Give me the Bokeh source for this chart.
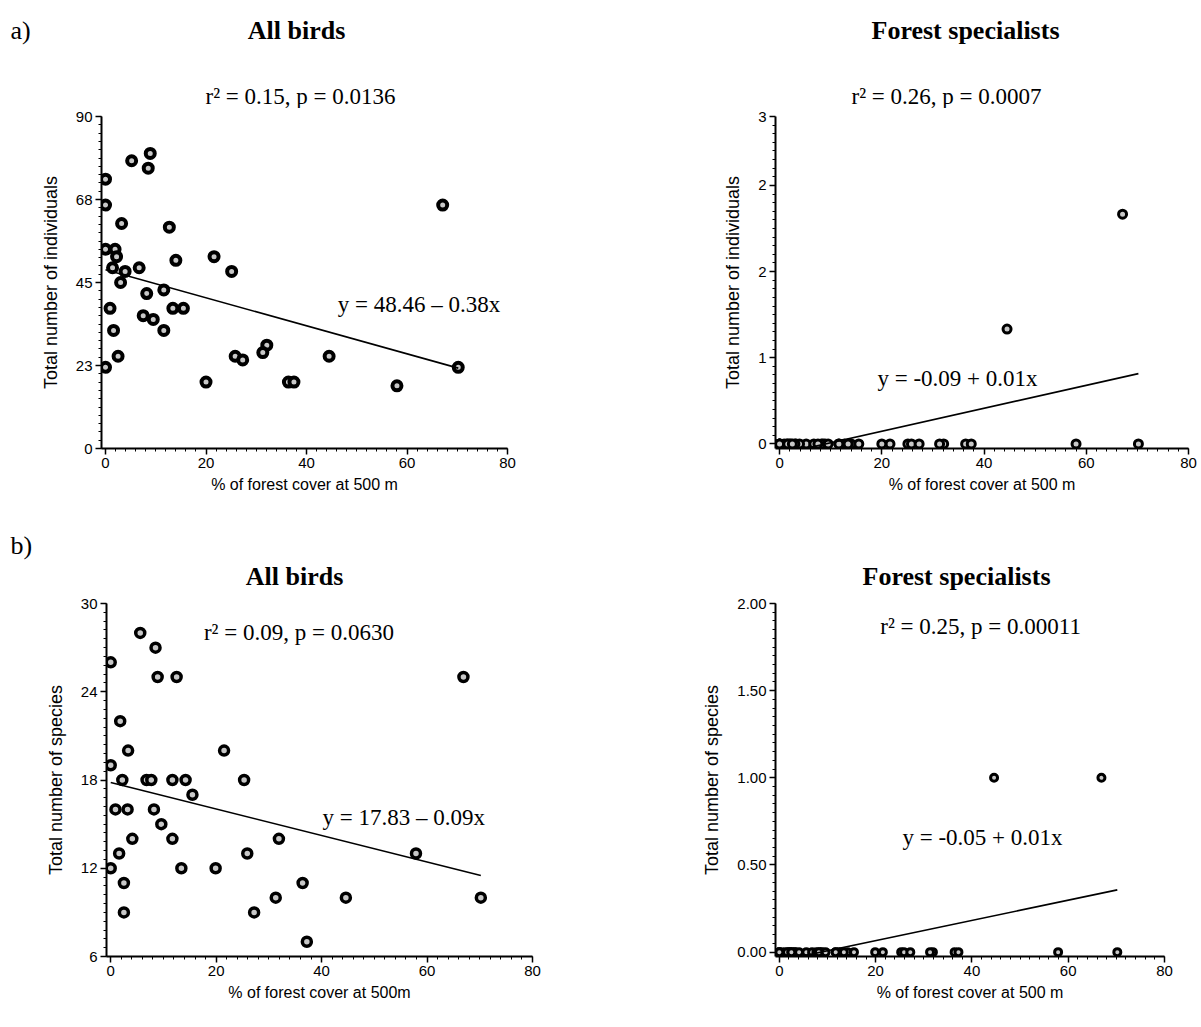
import numpy as np
from bokeh.plotting import figure
from bokeh.models import Label, FixedTicker, NumeralTickFormatter
from bokeh.layouts import column, row
from bokeh.embed import file_html
from bokeh.resources import INLINE

# ---- a) total number of individuals per site ----
cover_a = [0, 0, 5.2, 8.9, 8.5, 3.2, 12.7, 0, 1.9, 2.2, 1.4, 6.7, 3.9, 3.0,
           14.0, 21.6, 25.1, 8.2, 11.6, 0.9, 13.4, 15.5, 7.5, 9.5, 11.6, 1.6,
           2.5, 0, 20.0, 25.8, 27.3, 32.1, 31.3, 36.4, 37.5, 67.1, 44.5, 58.0, 70.2]
indiv_all = [73, 66, 78, 80, 76, 61, 60, 54, 54, 52, 49, 49, 48, 45,
             51, 52, 48, 42, 43, 38, 38, 38, 36, 35, 32, 32,
             25, 22, 18, 25, 24, 28, 26, 18, 18, 66, 25, 17, 22]
indiv_forest = [0, 0, 0, 0, 0, 0, 0, 0, 0, 0, 0, 0, 0, 0,
                0, 0, 0, 0, 0, 0, 0, 0, 0, 0, 0, 0,
                0, 0, 0, 0, 0, 0, 0, 0, 0, 2, 1, 0, 0]

# ---- b) total number of species per site ----
cover_b = [5.6, 8.5, 0, 8.9, 12.5, 1.8, 3.3, 21.5, 0, 2.2, 6.8, 7.7, 11.7,
           14.2, 25.3, 15.5, 0.9, 3.2, 8.2, 9.6, 4.1, 11.7, 31.9, 1.6, 25.9,
           0, 13.4, 19.9, 2.5, 36.4, 31.3, 2.5, 27.2, 37.2, 57.9, 44.6, 70.2, 66.9]
species_all = [28, 27, 26, 25, 25, 22, 20, 20, 19, 18, 18, 18, 18,
               18, 18, 17, 16, 16, 16, 15, 14, 14, 14, 13, 13,
               12, 12, 12, 11, 11, 10, 9, 9, 7, 13, 10, 10, 25]
species_forest = [0, 0, 0, 0, 0, 0, 0, 0, 0, 0, 0, 0, 0,
                  0, 0, 0, 0, 0, 0, 0, 0, 0, 0, 0, 0,
                  0, 0, 0, 0, 0, 0, 0, 0, 0, 0, 1, 0, 1]

# linear fits: (intercept, slope)
fit_a_all = (48.46, -0.38)
fit_a_forest = (-0.09, 0.01)
fit_b_all = (17.83, -0.09)
fit_b_forest = (-0.05, 0.0058)

x_ticks = [0, 20, 40, 60, 80]

SERIF = "Liberation Serif"
SANS = "Liberation Sans"


def make_panel(width, height, borders, y_range, y_ticks, y_labels,
               y_minor, x_title, y_title):
    left, right, top, bottom = borders
    p = figure(width=width, height=height, x_range=(-0.8, 80), y_range=y_range,
               output_backend="svg", toolbar_location=None,
               min_border_left=left, min_border_right=right,
               min_border_top=top, min_border_bottom=bottom)
    p.xgrid.visible = False
    p.ygrid.visible = False
    p.outline_line_color = None
    p.background_fill_color = "white"
    p.border_fill_color = "white"
    p.xaxis.ticker = FixedTicker(ticks=x_ticks, minor_ticks=list(np.arange(0, 80.1, 2)))
    p.yaxis.ticker = FixedTicker(ticks=y_ticks, minor_ticks=y_minor)
    if y_labels is not None:
        p.yaxis.major_label_overrides = {t: l for t, l in zip(y_ticks, y_labels)}
    p.xaxis.axis_label = x_title
    p.yaxis.axis_label = y_title
    for ax in p.axis:
        ax.axis_line_width = 2
        ax.axis_line_color = "black"
        ax.major_tick_line_width = 1.5
        ax.major_tick_line_color = "black"
        ax.major_tick_out = 6
        ax.major_tick_in = 0
        ax.minor_tick_out = 3
        ax.minor_tick_in = 0
        ax.minor_tick_line_color = "black"
        ax.major_label_text_font = SANS
        ax.major_label_text_font_size = "15px"
        ax.major_label_text_color = "black"
        ax.axis_label_text_font = SANS
        ax.axis_label_text_font_style = "normal"
        ax.axis_label_text_color = "black"
        ax.major_label_standoff = 3
    p.xaxis.axis_label_text_font_size = "16px"
    p.yaxis.axis_label_text_font_size = "18px"
    p.xaxis.axis_label_standoff = 5
    p.yaxis.axis_label_standoff = 12
    return p


def header(height):
    h = figure(width=1201, height=height, x_range=(0, 1201), y_range=(height, 0),
               x_axis_type=None, y_axis_type=None, output_backend="svg",
               toolbar_location=None, min_border=0)
    h.xgrid.visible = False
    h.ygrid.visible = False
    h.outline_line_color = None
    return h


def add_points_and_fit(p, xs, ys, fit, size, lw):
    p.scatter(xs, ys, size=size, fill_color="#c8c8c8", line_color="black", line_width=lw)
    a, b = fit
    fx = np.array([0.0, max(xs)])
    p.line(fx, a + b * fx, line_color="black", line_width=1.6)


def text(p, x, y, s, size, bold=False, align="center"):
    p.add_layout(Label(x=x, y=y, text=s, text_font=SERIF, text_font_size=size,
                       text_font_style="bold" if bold else "normal",
                       text_align=align, text_baseline="middle", text_color="black"))


# header of part a): letter, titles and fit statistics
head_a = header(108)
text(head_a, 10, 30, "a)", "26px", align="left")
text(head_a, 296, 30, "All birds", "26px", bold=True)
text(head_a, 965, 30, "Forest specialists", "26px", bold=True)
text(head_a, 300, 96, "r² = 0.15, p = 0.0136", "23px")
text(head_a, 946, 96, "r² = 0.26, p = 0.0007", "23px")

# header of part b): letter and titles
head_b = header(60)
text(head_b, 10, 15, "b)", "26px", align="left")
text(head_b, 294, 46, "All birds", "26px", bold=True)
text(head_b, 956, 46, "Forest specialists", "26px", bold=True)

# a) all birds
p1 = make_panel(640, 422, (101, 133, 5, 72), (0, 90),
                [0, 22.5, 45, 67.5, 90], ["0", "23", "45", "68", "90"],
                list(np.arange(0, 90.1, 2.25)),
                "% of forest cover at 500 m", "Total number of individuals")
add_points_and_fit(p1, cover_a, indiv_all, fit_a_all, 9, 4)
text(p1, 62.4, 39.0, "y = 48.46 – 0.38x", "23px")

# a) forest specialists
p2 = make_panel(561, 422, (135, 13, 8, 82), (-0.04, 2.85),
                [0, 0.75, 1.5, 2.25, 2.85], ["0", "1", "2", "2", "3"],
                list(np.arange(0, 2.85, 0.075)),
                "% of forest cover at 500 m", "Total number of individuals")
add_points_and_fit(p2, cover_a, indiv_forest, fit_a_forest, 8, 3)
text(p2, 34.8, 0.567, "y = -0.09 + 0.01x", "23px")

# b) all birds
p3 = make_panel(640, 437, (106, 108, 5, 66), (6, 30),
                [6, 12, 18, 24, 30], None,
                list(np.arange(6, 30.1, 0.6)),
                "% of forest cover at 500m", "Total number of species")
add_points_and_fit(p3, cover_b, species_all, fit_b_all, 9, 3.5)
text(p3, 35.7, 28.0, "r² = 0.09, p = 0.0630", "23px")
text(p3, 55.6, 15.48, "y = 17.83 – 0.09x", "23px")

# b) forest specialists
p4 = make_panel(561, 437, (135, 37, 13, 71), (-0.025, 2.0),
                [0, 0.5, 1.0, 1.5, 2.0], None,
                list(np.arange(0, 2.01, 0.05)),
                "% of forest cover at 500 m", "Total number of species")
p4.yaxis.formatter = NumeralTickFormatter(format="0.00")
add_points_and_fit(p4, cover_b, species_forest, fit_b_forest, 7, 3)
text(p4, 41.8, 1.868, "r² = 0.25, p = 0.00011", "23px")
text(p4, 42.2, 0.659, "y = -0.05 + 0.01x", "23px")

layout = column(head_a, row(p1, p2), head_b, row(p3, p4))
open("out.html", "w").write(file_html(layout, INLINE))
